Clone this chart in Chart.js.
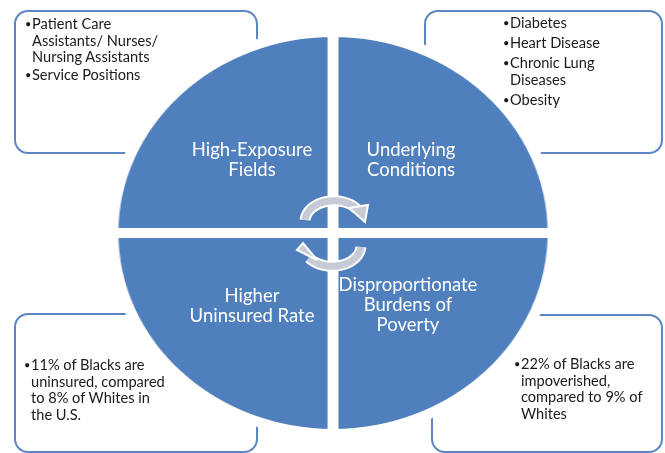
<!DOCTYPE html>
<html>
<head>
<meta charset="utf-8">
<script src="https://cdn.jsdelivr.net/npm/chart.js@4.4.1/dist/chart.umd.min.js"></script>
<style>
  html, body { margin: 0; padding: 0; background: #fff; }
  body { width: 665px; height: 453px; position: relative; overflow: hidden; font-family: Lato, "Open Sans", sans-serif; }
  .box { position: absolute; border: 2px solid #5b86c3; border-radius: 14px; box-sizing: border-box; z-index: 1; }
  .txt { position: absolute; font-size: 14.6px; line-height: 16.5px; color: #1a1a1a; z-index: 3; white-space: nowrap; }
  .txt .item { position: relative; padding-left: 6px; }
  .txt .item:before { content: "\2022"; position: absolute; left: -1px; top: 0; font-size: 11px; }
  #wrap { position: absolute; left: 127px; top: 27px; width: 412px; height: 412px; transform: scaleX(1.095); transform-origin: center; z-index: 2; }
  .lab { position: absolute; color: #fff; font-size: 18.5px; line-height: 20px; text-align: center; width: 200px; z-index: 4; }
  #arrows { position: absolute; left: 0; top: 0; z-index: 5; }
</style>
</head>
<body>
<div class="box" style="left:14px;top:10px;width:244px;height:144px"></div>
<div class="box" style="left:424px;top:10px;width:239px;height:144px"></div>
<div class="box" style="left:14px;top:313px;width:244px;height:140px"></div>
<div class="box" style="left:431px;top:314px;width:232px;height:139px"></div>

<div class="txt" id="t0" style="left:26px;top:16px"></div>
<div class="txt" id="t1" style="left:504px;top:15px"></div>
<div class="txt" id="t2" style="left:25px;top:357px"></div>
<div class="txt" id="t3" style="left:515px;top:356px"></div>

<div id="wrap"><canvas id="myChart" width="412" height="412"></canvas></div>

<div class="lab" id="l0" style="left:152px;top:139px"></div>
<div class="lab" id="l1" style="left:311px;top:139px"></div>
<div class="lab" id="l2" style="left:308px;top:274px"></div>
<div class="lab" id="l3" style="left:152px;top:285px"></div>

<svg id="arrows" width="665" height="453">
  <g fill="none" stroke-linecap="butt">
    <path d="M305 220 A29 21 0 0 1 357 209" stroke="#fff" stroke-width="11"/>
    <path d="M305 220 A29 21 0 0 1 357 209" stroke="#c7cbd6" stroke-width="7"/>
    <path d="M361 247 A29 21 0 0 1 309 258" stroke="#fff" stroke-width="11"/>
    <path d="M361 247 A29 21 0 0 1 309 258" stroke="#c7cbd6" stroke-width="7"/>
  </g>
  <polygon points="349,208 368,205 365,222" fill="#c7cbd6" stroke="#fff" stroke-width="2"/>
  <polygon points="317,260 297,250 303,243" fill="#c7cbd6" stroke="#fff" stroke-width="2"/>
</svg>

<script>
// quadrants, clockwise from 12 o'clock
var quadrants = ['Underlying Conditions', 'Disproportionate Burdens of Poverty', 'Higher Uninsured Rate', 'High-Exposure Fields'];
var shares = [1, 1, 1, 1];
var quadColor = '#4f7fbc';

// label lines shown inside the circle
var labelLines = [
  ['High-Exposure', 'Fields'],
  ['Underlying', 'Conditions'],
  ['Disproportionate', 'Burdens of', 'Poverty'],
  ['Higher', 'Uninsured Rate']
];

// bullet boxes: top-left, top-right, bottom-left, bottom-right
var boxHigh = [['Patient Care', 'Assistants/ Nurses/', 'Nursing Assistants'], ['Service Positions']];
var boxUnder = [['Diabetes'], ['Heart Disease'], ['Chronic Lung', 'Diseases'], ['Obesity']];
var boxUninsured = [['11% of Blacks are', 'uninsured, compared', 'to 8% of Whites in', 'the U.S.']];
var boxPoverty = [['22% of Blacks are', 'impoverished,', 'compared to 9% of', 'Whites']];

function fillBox(id, items, gap) {
  var el = document.getElementById(id);
  items.forEach(function (lines) {
    var d = document.createElement('div');
    d.className = 'item';
    d.style.marginBottom = gap + 'px';
    d.innerHTML = lines.join('<br>');
    el.appendChild(d);
  });
}
fillBox('t0', boxHigh, 1);
fillBox('t1', boxUnder, 3.5);
fillBox('t2', boxUninsured, 0);
fillBox('t3', boxPoverty, 0);

labelLines.forEach(function (lines, i) {
  document.getElementById('l' + i).innerHTML = lines.join('<br>');
});

var ctx = document.getElementById('myChart').getContext('2d');
var myChart = new Chart(ctx, {
  type: 'pie',
  data: {
    labels: quadrants,
    datasets: [{
      data: shares,
      backgroundColor: quadColor,
      borderColor: '#ffffff',
      borderWidth: 10
    }]
  },
  options: {
    responsive: false,
    animation: false,
    layout: { padding: 0 },
    plugins: {
      legend: { display: false },
      tooltip: { enabled: false }
    }
  }
});
</script>
</body>
</html>
